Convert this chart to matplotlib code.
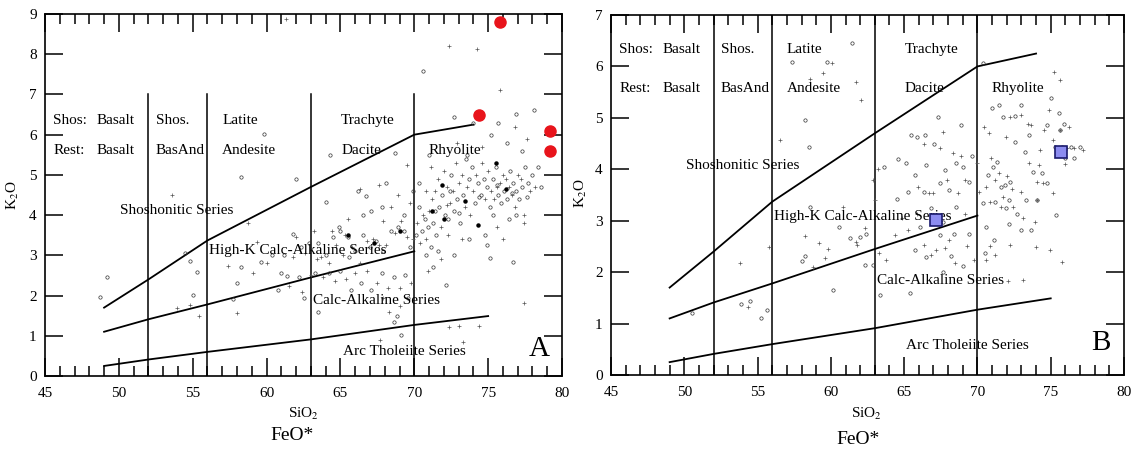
import matplotlib
matplotlib.use("Agg")
import matplotlib.pyplot as plt
from matplotlib.ticker import MultipleLocator

plt.rcParams['font.family'] = ['Liberation Serif', 'DejaVu Serif']
plt.rcParams['mathtext.fontset'] = 'stix'

# boundary lines (SiO2, K2O), same in both diagrams
shos_line_x = [49, 52, 56, 63, 70, 74]
shos_line_y = [1.7, 2.4, 3.37, 4.7, 6.0, 6.25]
highk_line_x = [49, 52, 56, 63, 70]
highk_line_y = [1.1, 1.41, 1.78, 2.45, 3.1]
calc_line_x = [49, 52, 56, 63, 70, 75]
calc_line_y = [0.25, 0.41, 0.6, 0.91, 1.27, 1.49]
divider_x = [52, 56, 63, 70]

# rock names
shos_names = ["Shos:", "Basalt", "Shos.", "Latite", "Trachyte"]
rest_names = ["Rest:", "Basalt", "BasAnd", "Andesite", "Dacite", "Rhyolite"]
name_x = [45.55, 48.5, 52.5, 57.0, 65.05, 70.95]
series_names = ["Shoshonitic Series", "High-K Calc-Alkaline Series",
                "Calc-Alkaline Series", "Arc Tholeiite Series"]
series_x = [50.1, 56.1, 63.15, 65.15]

# panel A samples
a_circle_x = [48.7, 49.2, 54.5, 54.85, 55.3, 55.05, 58.25, 59.85, 62.0, 64.3, 66.2,
              66.75, 64.0, 70.6, 72.7, 74.0, 76.9, 78.1, 76.7, 75.1, 74.9, 72.17,
              69.1, 63.5, 62.5, 58.0, 57.75, 58.25, 59.65, 60.8, 61.4, 61.8,
              62.3, 62.9, 63.5, 64.0, 64.5, 65.0, 65.5, 65.6, 66.0, 66.5, 67.0,
              67.4, 67.9, 68.4, 68.9, 69.3, 69.7, 63.3, 64.2, 65.0, 65.7, 66.4,
              67.1, 67.8, 68.6, 69.4, 68.8, 68.6, 69.6, 67.1, 68.1, 67.8, 69.3,
              69.9, 68.7, 66.5, 64.9, 61.0, 62.2, 60.4, 61.2,
              70.1, 70.3, 70.5, 70.7, 70.9, 71.1, 71.3, 71.5, 71.7, 71.9, 72.1,
              72.3, 72.5, 72.7, 72.9, 73.1, 73.3, 73.5, 73.7, 73.9, 74.1, 74.3,
              74.5, 74.7, 74.9, 75.1, 75.3, 75.5, 75.7, 75.9, 76.1, 76.3, 76.5,
              76.7, 76.9, 77.1, 77.3, 77.5, 77.7, 78.0, 78.4, 76.3, 77.3, 75.7,
              73.6, 75.3, 76.4, 74.8, 72.7, 71.3, 71.6, 73.7, 76.9, 70.3, 71.0,
              75.2, 70.8, 71.4, 72.4, 73.0, 74.4, 75.6, 76.6, 77.6, 78.6]
a_circle_y = [1.97, 2.45, 3.07, 2.85, 2.59, 2.02, 4.94, 6.01, 4.9, 5.49, 4.6,
              4.48, 4.33, 7.59, 6.45, 6.29, 6.51, 6.61, 2.84, 2.94, 3.25, 2.26,
              1.02, 1.59, 1.95, 2.32, 1.92, 2.7, 2.84, 2.14, 2.49, 3.53,
              3.2, 3.3, 3.3, 3.0, 3.45, 3.6, 3.45, 2.95, 3.1, 3.5, 3.2,
              3.35, 3.1, 3.6, 3.7, 3.6, 3.2, 2.55, 2.55, 2.6, 2.15, 2.3,
              2.15, 2.55, 2.45, 2.5, 1.5, 1.35, 1.95, 4.1, 4.8, 4.2, 4.0,
              4.6, 5.55, 4.0, 3.7, 2.55, 2.45, 3.0, 3.0,
              3.5, 4.2, 3.6, 3.9, 3.7, 3.2, 3.8, 3.5, 4.2, 4.5, 4.0,
              3.9, 5.0, 4.1, 4.4, 3.8, 4.5, 5.4, 4.9, 5.2, 4.3, 4.8,
              4.5, 4.9, 4.7, 4.2, 4.9, 5.2, 4.5, 4.3, 4.6, 4.4, 5.1,
              4.8, 4.6, 4.4, 4.7, 5.2, 4.8, 5.0, 5.2, 5.8, 5.6, 6.3,
              5.5, 4.0, 3.9, 3.5, 3.0, 2.7, 3.1, 3.4, 4.0, 4.8, 5.5,
              6.0, 3.0, 4.1, 4.6, 4.05, 4.45, 4.75, 4.55, 4.45, 4.7]
a_plus_x = [53.57, 53.94, 54.8, 55.4, 58.74, 61.33, 72.34, 74.26, 75.81, 77.46,
            72.34, 73.0, 73.28, 74.38, 67.7, 62.4, 58.0, 57.4, 59.1, 59.36,
            62.0, 62.6, 63.2, 63.4, 63.7, 64.2, 64.7, 65.2, 65.3, 65.8, 66.3,
            66.8, 67.2, 67.6, 68.1, 68.7, 69.1, 69.5, 69.9, 63.0, 63.8, 64.6,
            65.4, 66.0, 66.8, 67.5, 68.2, 69.0, 69.8, 68.3, 69.0, 67.9, 66.3,
            67.6, 68.4, 68.9, 69.7, 69.5, 67.9, 65.5, 64.4, 61.5, 60.0, 61.8,
            70.2, 70.4, 70.6, 70.8, 71.0, 71.2, 71.4, 71.6, 71.8, 72.0, 72.2,
            72.4, 72.6, 72.8, 73.0, 73.2, 73.4, 73.6, 73.8, 74.0, 74.2, 74.6,
            74.8, 75.0, 75.2, 75.4, 75.6, 75.8, 76.0, 76.2, 76.4, 76.6, 76.8,
            77.0, 77.2, 77.4, 77.8, 78.2, 76.8, 77.6, 74.6, 72.9, 76.0, 75.6,
            73.2, 71.8, 70.9, 72.3, 77.4, 70.8, 71.1, 72.2]
a_plus_y = [4.5, 1.68, 1.76, 1.48, 3.8, 8.87, 8.21, 8.14, 7.12, 1.81,
            1.23, 1.25, 0.85, 1.24, 0.9, 2.09, 1.56, 2.74, 2.57, 3.34,
            3.45, 3.05, 3.6, 2.9, 2.95, 2.8, 3.25, 3.0, 3.5, 3.2, 2.8,
            3.35, 3.4, 3.25, 3.25, 3.55, 3.85, 3.45, 3.4, 2.5, 2.45, 2.35,
            2.4, 2.55, 2.6, 2.3, 2.2, 2.2, 2.3, 1.6, 1.75, 1.95, 4.65,
            4.75, 4.2, 4.5, 4.3, 5.25, 3.85, 3.9, 3.6, 2.25, 2.8, 2.95,
            3.8, 3.3, 4.0, 3.4, 4.1, 4.4, 4.6, 4.9, 3.7, 5.1, 4.7,
            4.3, 4.6, 5.3, 4.8, 5.0, 4.2, 4.7, 4.0, 4.6, 5.0, 5.3,
            4.4, 5.1, 4.6, 4.4, 4.7, 4.8, 5.0, 4.9, 4.7, 4.5, 4.2,
            5.0, 4.9, 4.0, 4.6, 4.7, 6.2, 5.9, 5.7, 5.8, 3.4, 3.7,
            3.4, 2.9, 2.6, 3.5, 3.8, 4.6, 5.2, 4.25]
a_dot_x = [71.2, 72.0, 74.3, 75.5, 71.9, 69.0, 67.3, 65.5, 73.4, 76.2]
a_dot_y = [4.1, 3.9, 3.75, 5.3, 4.75, 3.6, 3.3, 3.5, 4.35, 4.65]
a_red_x = [74.4, 75.8, 79.2, 79.2]
a_red_y = [6.5, 8.8, 6.1, 5.6]

# panel B samples
b_circle_x = [50.55, 53.86, 54.47, 55.2, 55.64, 57.33, 58.26, 58.5, 59.73, 61.44,
              58.58, 60.54, 61.32, 62.0, 62.4, 58.0, 58.26, 60.17, 62.35, 62.9,
              63.64, 63.33, 64.5, 65.43, 64.55, 65.11, 65.48, 65.9, 66.4, 65.72,
              66.46, 66.34, 66.83, 66.1, 66.46, 65.72, 67.07, 67.32, 67.8, 68.05,
              68.54, 69.03, 68.9, 68.54, 69.4, 69.64, 67.68, 68.4, 68.17, 69.0,
              69.4, 67.68, 67.44, 67.44, 65.23, 70.37, 70.98, 71.72, 72.57, 72.94,
              72.57, 73.55, 71.47, 70.37, 70.73, 71.06, 71.35, 71.6, 71.9, 72.2,
              72.14, 71.96, 71.23, 70.6, 70.5, 71.1, 72.14, 72.7, 73.0, 73.3,
              73.8, 74.4, 74.73, 74.04, 73.67, 75.39, 74.78, 75.02, 75.64, 75.27,
              75.8, 76.37, 76.98, 75.98, 75.9, 75.59, 76.61, 73.26]
b_circle_y = [1.2, 1.39, 1.43, 1.1, 1.26, 6.09, 4.96, 4.44, 6.09, 6.45,
              3.27, 2.88, 2.66, 2.69, 2.75, 2.22, 2.31, 1.65, 2.13, 2.14,
              4.04, 1.56, 3.43, 1.59, 4.2, 4.13, 4.67, 4.62, 4.67, 3.89,
              4.08, 3.56, 3.24, 2.88, 2.3, 2.43, 4.5, 5.02, 3.99, 3.6,
              4.12, 4.05, 4.86, 3.27, 3.76, 4.25, 2.98, 2.75, 2.31, 2.11,
              2.75, 2.01, 2.72, 3.73, 3.56, 6.06, 5.2, 5.02, 5.04, 5.25,
              4.54, 4.67, 5.25, 3.34, 3.89, 4.05, 4.15, 3.66, 3.69, 3.76,
              3.4, 3.24, 3.37, 2.88, 2.37, 2.62, 2.94, 3.14, 2.82, 3.4,
              3.95, 3.92, 3.74, 3.4, 2.82, 3.11, 4.86, 5.38, 4.76, 4.44,
              4.44, 4.44, 4.44, 4.21, 4.89, 5.09, 4.21, 4.34]
b_plus_x = [53.78, 54.35, 55.77, 56.55, 58.58, 59.49, 60.1, 61.74, 62.05, 58.26,
            61.8, 62.3, 59.17, 59.78, 59.6, 58.8, 60.83, 61.69, 62.9, 63.03,
            63.23, 64.38, 63.77, 63.28, 65.97, 66.34, 66.7, 65.85, 66.34, 66.83,
            67.44, 67.68, 67.93, 68.3, 68.86, 69.15, 68.66, 69.15, 70.0, 68.05,
            67.8, 68.46, 69.27, 69.76, 67.19, 66.95, 64.87, 65.23, 70.42, 70.81,
            72.2, 73.0, 71.96, 73.43, 73.67, 72.82, 70.13, 70.6, 70.9, 71.23,
            71.47, 71.72, 72.04, 72.33, 72.45, 71.6, 70.86, 70.86, 70.6, 71.23,
            72.2, 72.1, 73.1, 73.1, 72.94, 74.04, 74.17, 74.5, 74.04, 73.9,
            73.98, 74.98, 75.15, 75.76, 74.53, 74.9, 75.2, 75.64, 75.15, 75.47,
            76.12, 76.61, 77.17, 75.64, 76.24, 76.0, 73.5, 74.28]
b_plus_y = [2.17, 1.33, 2.48, 4.57, 5.75, 5.87, 6.07, 5.7, 5.35, 2.7,
            2.53, 2.86, 2.56, 2.45, 2.27, 2.1, 3.27, 2.58, 3.79, 3.4,
            4.0, 2.72, 2.24, 2.37, 3.66, 4.49, 3.53, 3.14, 2.53, 2.33,
            4.41, 4.73, 3.79, 4.31, 4.25, 3.79, 3.53, 3.14, 4.12, 2.62,
            2.46, 2.17, 2.5, 2.24, 2.43, 3.53, 3.05, 2.82, 4.83, 4.7,
            5.02, 5.06, 4.62, 4.89, 4.86, 5.64, 3.56, 3.66, 4.21, 3.79,
            3.92, 3.47, 3.86, 3.61, 3.27, 3.27, 3.37, 2.5, 2.24, 2.33,
            2.53, 1.83, 1.85, 3.05, 3.56, 3.76, 4.08, 3.73, 3.4, 2.98,
            2.48, 2.43, 3.53, 2.2, 4.76, 5.15, 5.9, 5.74, 4.57, 4.31,
            4.41, 4.41, 4.37, 4.76, 4.82, 4.1, 4.12, 4.37]
b_blue_x = [67.2, 75.7]
b_blue_y = [3.02, 4.33]

W, H = 1134, 454
fig = plt.figure(figsize=(W / 100, H / 100), dpi=100)


def draw_panel(ax, ymax, letter, circ_x, circ_y, plus_x, plus_y, y_shos, y_rest):
    ax.set_xlim(45, 80)
    ax.set_ylim(0, ymax)
    for v in divider_x:
        ax.plot([v, v], [0, 7], color='black', lw=1.1, zorder=2)
    ax.plot(shos_line_x, shos_line_y, color='black', lw=1.3, zorder=2)
    ax.plot(highk_line_x, highk_line_y, color='black', lw=1.3, zorder=2)
    ax.plot(calc_line_x, calc_line_y, color='black', lw=1.3, zorder=2)

    ax.plot(circ_x, circ_y, 'o', ms=2.4, mfc='none', mec='#333333', mew=0.5, zorder=3)
    ax.plot(plus_x, plus_y, '+', ms=2.6, color='#555555', mew=0.5, zorder=3)

    for name, x in zip(shos_names, name_x):
        ax.text(x, y_shos, name, fontsize=11, ha='left', va='center', zorder=4)
    for name, x in zip(rest_names, name_x):
        ax.text(x, y_rest, name, fontsize=11, ha='left', va='center', zorder=4)
    for name, x, y in zip(series_names, series_x, series_ys[letter]):
        ax.text(x, y, name, fontsize=11, ha='left', va='center', zorder=4)
    ax.text(77.75, 0.12 * ymax / 1.6 if False else letter_y[letter], letter,
            fontsize=21, ha='left', va='center', zorder=4)

    ax.xaxis.set_major_locator(MultipleLocator(5))
    ax.xaxis.set_minor_locator(MultipleLocator(1))
    ax.yaxis.set_major_locator(MultipleLocator(1))
    ax.tick_params(which='both', direction='in', top=True, right=True,
                   labelsize=11, width=1.1)
    ax.tick_params(axis='x', which='major', length=13, pad=8)
    ax.tick_params(axis='x', which='minor', length=7)
    ax.tick_params(axis='y', which='major', length=13, pad=6)
    for s in ax.spines.values():
        s.set_linewidth(1.2)


series_ys = {'A': [4.11, 3.11, 1.87, 0.62], 'B': [4.08, 3.08, 1.83, 0.58]}
letter_y = {'A': 0.66, 'B': 0.62}

ax_a = fig.add_axes([45 / W, 1 - 376 / H, 517 / W, 362 / H])
draw_panel(ax_a, 9, 'A', a_circle_x, a_circle_y, a_plus_x, a_plus_y, 6.35, 5.6)
ax_a.plot(a_dot_x, a_dot_y, 'o', ms=2.2, color='black', zorder=3)
ax_a.plot(a_red_x, a_red_y, 'o', ms=8, color='#e8141b', zorder=5, clip_on=False)

ax_b = fig.add_axes([611 / W, 1 - 375 / H, 513 / W, 360 / H])
draw_panel(ax_b, 7, 'B', b_circle_x, b_circle_y, b_plus_x, b_plus_y, 6.33, 5.57)
ax_b.plot(b_blue_x, b_blue_y, 's', ms=8.5, mfc='#8c8cf0', mec='#1a1a6e', mew=1.2, zorder=5)

# axis titles
fig.text(303 / W, 1 - 414 / H, 'SiO$_2$', fontsize=11, ha='center', va='center')
fig.text(866 / W, 1 - 414 / H, 'SiO$_2$', fontsize=11, ha='center', va='center')
fig.text(292 / W, 1 - 436 / H, 'FeO*', fontsize=14, ha='center', va='center')
fig.text(858 / W, 1 - 440 / H, 'FeO*', fontsize=14, ha='center', va='center')
fig.text(13 / W, 1 - 195 / H, 'K$_2$O', fontsize=11, rotation=90, ha='center', va='center')
fig.text(581 / W, 1 - 193 / H, 'K$_2$O', fontsize=11, rotation=90, ha='center', va='center')

fig.savefig('out.png', dpi=100)
